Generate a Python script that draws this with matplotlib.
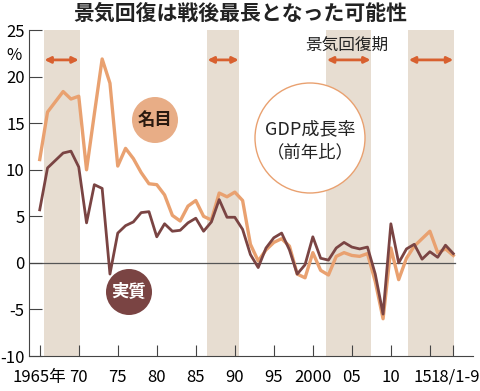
import matplotlib
matplotlib.use('Agg')
import matplotlib.pyplot as plt
import matplotlib.transforms as mtrans
from matplotlib.patches import Circle

plt.rcParams['font.family'] = ['Noto Sans CJK JP', 'DejaVu Sans']
TICKFONT = ['Liberation Sans Narrow', 'Noto Sans CJK JP']

# data
years = list(range(1965, 2019))  # 2018 = 18/1-9
nominal = [11.1, 16.2, 17.3, 18.4, 17.6, 17.9, 10.0, 16.0, 21.9, 19.3,
           10.4, 12.3, 11.2, 9.7, 8.5, 8.4, 7.3, 5.1, 4.5, 6.1,
           6.7, 5.0, 4.6, 7.5, 7.1, 7.6, 6.7, 2.0, 0.2, 1.4,
           2.2, 2.6, 1.8, -1.2, -1.6, 1.1, -0.8, -1.3, 0.7, 1.1,
           0.8, 0.7, 1.0, -2.0, -6.0, 1.6, -1.8, 0.5, 1.8, 2.6,
           3.4, 1.1, 1.5, 0.8]
real = [5.7, 10.2, 11.0, 11.8, 12.0, 10.3, 4.3, 8.4, 8.0, -1.2,
        3.2, 4.0, 4.4, 5.4, 5.5, 2.8, 4.2, 3.4, 3.5, 4.3,
        4.8, 3.4, 4.4, 6.8, 4.9, 4.9, 3.6, 0.9, -0.5, 1.6,
        2.7, 3.2, 1.4, -1.2, -0.2, 2.8, 0.5, 0.3, 1.6, 2.2,
        1.7, 1.5, 1.7, -1.2, -5.5, 4.2, 0.0, 1.5, 2.0, 0.4,
        1.2, 0.6, 1.9, 1.0]
booms = [(1965.5, 1970.1), (1986.4, 1990.6), (2001.7, 2007.5), (2012.2, 2018.1)]

xticks = [1965, 1970, 1975, 1980, 1985, 1990, 1995, 2000, 2005, 2010, 2015, 2018]
xlabels = ['1965年', '70', '75', '80', '85', '90', '95', '2000', '05', '10', '15', '18/1-9']
yticks = [25, 20, 15, 10, 5, 0, -5, -10]

C_NOM = '#e9a170'
C_REAL = '#7a4443'
C_BAND = '#e7ddd1'
C_ARROW = '#d8602f'

fig = plt.figure(figsize=(4.8, 3.91), dpi=100)
ax = fig.add_axes([0.060, 0.0895, 0.925, 0.8335])

for a, b in booms:
    ax.axvspan(a, b, color=C_BAND, lw=0, zorder=0)
    ax.annotate('', xy=(a + 0.1, 21.8), xytext=(b - 0.1, 21.8),
                arrowprops=dict(arrowstyle='<|-|>', color=C_ARROW, lw=2,
                                mutation_scale=9, shrinkA=0, shrinkB=0))

ax.plot([1963.6, 2018.2], [0, 0], color='#555555', lw=0.9, zorder=1)
ax.plot(years, nominal, color=C_NOM, lw=2.4, zorder=2)
ax.plot(years, real, color=C_REAL, lw=2.0, zorder=3)

ax.set_xlim(1963.6, 2020.5)
ax.set_ylim(-10, 25)
ax.set_xticks(xticks)
ax.set_xticklabels(xlabels, family=TICKFONT, fontsize=12)
ax.set_yticks(yticks)
ax.set_yticklabels([str(v) for v in yticks], family=TICKFONT, fontsize=12)
ax.tick_params(axis='x', direction='in', length=8, width=0.8, color='#444444', pad=9)
ax.tick_params(axis='y', direction='in', length=9, width=0.8, color='#444444', pad=3)
# nudge the last two labels apart, as in the source
tl = ax.get_xticklabels()
tl[-2].set_transform(tl[-2].get_transform() + mtrans.ScaledTranslation(-7 / 100, 0, fig.dpi_scale_trans))
tl[-1].set_transform(tl[-1].get_transform() + mtrans.ScaledTranslation(2 / 100, 0, fig.dpi_scale_trans))
for s in ['top', 'right']:
    ax.spines[s].set_visible(False)
for s in ['left', 'bottom']:
    ax.spines[s].set_color('#444444')
    ax.spines[s].set_linewidth(0.8)

ax.text(2004.4, 23.4, '景気回復期', ha='center', va='center', fontsize=12, color='#222222')

# title and % unit
fig.text(0.5, 0.966, '景気回復は戦後最長となった可能性', ha='center', va='center',
         fontsize=15, fontweight='bold', color='#222222')
fig.text(14 / 480, 1 - 55 / 391, '%', ha='center', va='center', family=TICKFONT, fontsize=12)

# labelled circles
tr = fig.dpi_scale_trans
fig.patches.append(Circle((1.55, (391 - 120) / 100), 0.23, transform=tr,
                          facecolor='#e8ad86', edgecolor='none', zorder=4))
fig.text(1.55 / 4.8, (391 - 120) / 391, '名目', ha='center', va='center',
         fontsize=12.5, fontweight='bold', color='#2a1a10', zorder=5)
fig.patches.append(Circle((1.29, (391 - 292) / 100), 0.23, transform=tr,
                          facecolor=C_REAL, edgecolor='none', zorder=4))
fig.text(1.29 / 4.8, (391 - 292) / 391, '実質', ha='center', va='center',
         fontsize=12.5, fontweight='bold', color='white', zorder=5)
fig.patches.append(Circle((3.10, (391 - 138) / 100), 0.55, transform=tr,
                          facecolor='white', edgecolor=C_NOM, lw=1.0, zorder=4))
fig.text(3.10 / 4.8, (391 - 129) / 391, 'GDP成長率', ha='center', va='center',
         fontsize=13, color='#222222', zorder=5)
fig.text(3.10 / 4.8, (391 - 152) / 391, '（前年比）', ha='center', va='center',
         fontsize=12.5, color='#222222', zorder=5)

fig.savefig('out.png', dpi=100)
